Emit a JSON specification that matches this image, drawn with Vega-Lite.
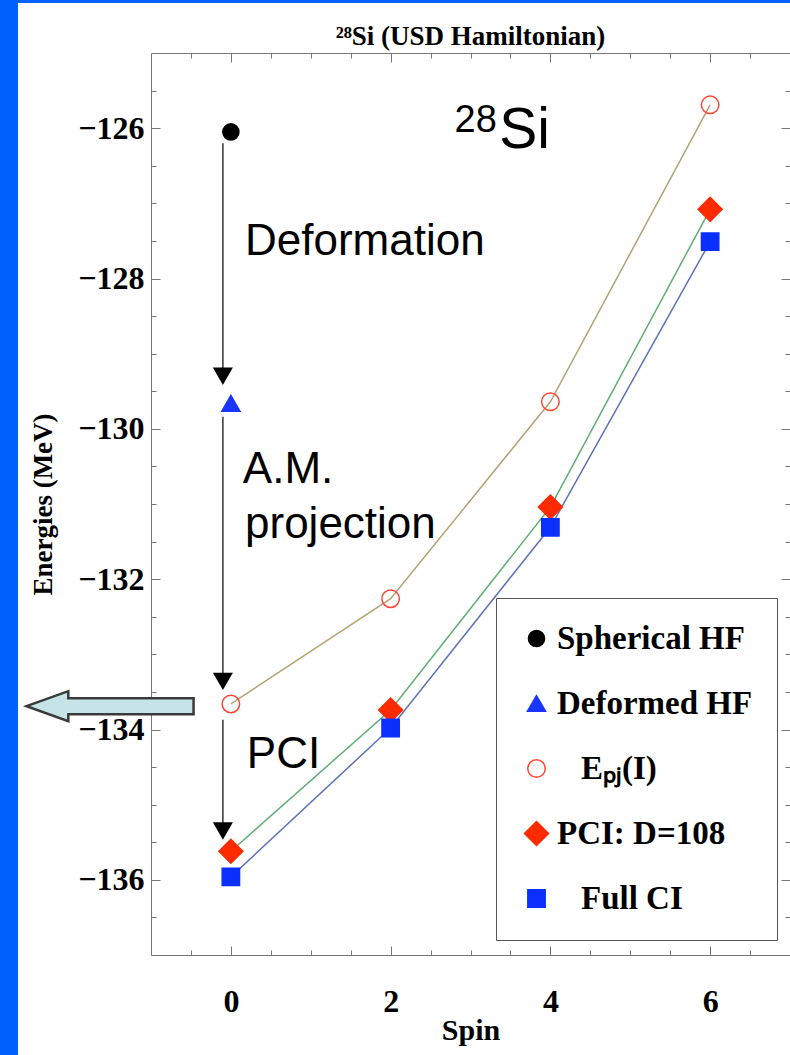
{
  "$schema": "https://vega.github.io/schema/vega-lite/v6.json",
  "autosize": "none",
  "width": 639,
  "height": 902,
  "padding": {"left": 151, "top": 53, "right": 0, "bottom": 100},
  "background": "#ffffff",
  "title": {"text": "\u00b2\u2078Si (USD Hamiltonian)", "font": "Liberation Serif", "fontWeight": "bold", "fontSize": 27, "color": "#000000", "offset": 0, "dy": 72, "baseline": "alphabetic", "anchor": "middle"},
  "config": {"view": {"stroke": null}},
  "datasets": {
    "main": [
      {"series": "Spherical HF", "spin": 0, "E": -126.05},
      {"series": "Deformed HF", "spin": 0, "E": -129.66},
      {"series": "Epj(I)", "spin": 0, "E": -133.66},
      {"series": "Epj(I)", "spin": 2, "E": -132.26},
      {"series": "Epj(I)", "spin": 4, "E": -129.64},
      {"series": "Epj(I)", "spin": 6, "E": -125.69},
      {"series": "PCI: D=108", "spin": 0, "E": -135.62},
      {"series": "PCI: D=108", "spin": 2, "E": -133.74},
      {"series": "PCI: D=108", "spin": 4, "E": -131.04},
      {"series": "PCI: D=108", "spin": 6, "E": -127.08},
      {"series": "Full CI", "spin": 0, "E": -135.96},
      {"series": "Full CI", "spin": 2, "E": -133.98},
      {"series": "Full CI", "spin": 4, "E": -131.31},
      {"series": "Full CI", "spin": 6, "E": -127.51}
    ],
    "arrows": [
      {"x": -0.1, "y1": -126.2, "y2": -129.3},
      {"x": -0.1, "y1": -129.84, "y2": -133.36},
      {"x": -0.1, "y1": -133.87, "y2": -135.35}
    ],
    "steps": [
      {"text": "Deformation", "x": 0.177, "y": -127.69},
      {"text": "A.M.", "x": 0.15, "y": -130.72},
      {"text": "projection", "x": 0.177, "y": -131.45},
      {"text": "PCI", "x": 0.2, "y": -134.51}
    ],
    "mass": [{"text": "28", "x": 2.8, "y": -126.05}],
    "element": [{"text": "Si", "x": 3.36, "y": -126.26}],
    "bigarrow": [{"x": -1.5125, "y": -133.69}],
    "strips": [
      {"x": -10, "x2": -2.665, "y": -150, "y2": -124.295},
      {"x": -10, "x2": 20, "y": -124.335, "y2": -124.295}
    ]
  },
  "resolve": {"axis": {"x": "independent", "y": "independent"}},
  "layer": [
    {
      "data": {"name": "strips"},
      "mark": {"type": "rect", "color": "#0062fe", "clip": false},
      "encoding": {
        "x": {"field": "x", "type": "quantitative", "scale": {"domain": [-1, 7], "nice": false, "zero": false}, "axis": null},
        "x2": {"field": "x2"},
        "y": {"field": "y", "type": "quantitative", "scale": {"domain": [-137, -125], "nice": false, "zero": false}, "axis": null},
        "y2": {"field": "y2"}
      }
    },
    {
      "data": {"name": "main"},
      "mark": {"type": "point", "opacity": 0},
      "encoding": {
        "x": {"field": "spin", "type": "quantitative", "scale": {"domain": [-1, 7], "nice": false, "zero": false},
          "axis": {"orient": "bottom", "values": [0, 2, 4, 6], "ticks": false, "domain": true, "domainColor": "#777777", "domainWidth": 1, "grid": false,
            "labelFont": "Liberation Serif", "labelFontWeight": "bold", "labelFontSize": 32, "labelColor": "#000000", "labelPadding": 31, "labelOverlap": false, "labelFlush": false,
            "title": "Spin", "titleFont": "Liberation Serif", "titleFontWeight": "bold", "titleFontSize": 30, "titleColor": "#000000", "titlePadding": -2}},
        "y": {"field": "E", "type": "quantitative", "scale": {"domain": [-137, -125], "nice": false, "zero": false},
          "axis": {"orient": "left", "values": [-136, -134, -132, -130, -128, -126], "ticks": false, "domain": true, "domainColor": "#777777", "domainWidth": 1, "grid": false,
            "labelFont": "Liberation Serif", "labelFontWeight": "bold", "labelFontSize": 32, "labelColor": "#000000", "labelPadding": 7, "labelOverlap": false, "labelFlush": false,
            "title": "Energies (MeV)", "titleFont": "Liberation Serif", "titleFontWeight": "bold", "titleFontSize": 27, "titleColor": "#000000", "titlePadding": 20}}
      }
    },
    {
      "data": {"name": "main"},
      "mark": {"type": "point", "opacity": 0},
      "encoding": {
        "x": {"field": "spin", "type": "quantitative", "scale": {"domain": [-1, 7], "nice": false, "zero": false},
          "axis": {"orient": "bottom", "values": [0, 2, 4, 6], "labels": false, "domain": false, "grid": false, "tickSize": -9, "tickColor": "#777777", "title": null}},
        "y": {"field": "E", "type": "quantitative", "scale": {"domain": [-137, -125], "nice": false, "zero": false},
          "axis": {"orient": "left", "values": [-136, -134, -132, -130, -128, -126], "labels": false, "domain": false, "grid": false, "tickSize": -9, "tickColor": "#777777", "title": null}}
      }
    },
    {
      "data": {"name": "main"},
      "mark": {"type": "point", "opacity": 0},
      "encoding": {
        "x": {"field": "spin", "type": "quantitative", "scale": {"domain": [-1, 7], "nice": false, "zero": false},
          "axis": {"orient": "bottom", "values": [-0.5, 0.5, 1, 1.5, 2.5, 3, 3.5, 4.5, 5, 5.5, 6.5], "labels": false, "domain": false, "grid": false, "tickSize": -5, "tickColor": "#777777", "title": null}},
        "y": {"field": "E", "type": "quantitative", "scale": {"domain": [-137, -125], "nice": false, "zero": false},
          "axis": {"orient": "left", "values": [-136.5, -135.5, -135, -134.5, -133.5, -133, -132.5, -131.5, -131, -130.5, -129.5, -129, -128.5, -127.5, -127, -126.5, -125.5], "labels": false, "domain": false, "grid": false, "tickSize": -5, "tickColor": "#777777", "title": null}}
      }
    },
    {
      "data": {"name": "main"},
      "mark": {"type": "point", "opacity": 0},
      "encoding": {
        "x": {"field": "spin", "type": "quantitative", "scale": {"domain": [-1, 7], "nice": false, "zero": false},
          "axis": {"orient": "top", "values": [0, 2, 4, 6], "labels": false, "domain": true, "domainColor": "#777777", "domainWidth": 1, "grid": false, "tickSize": -9, "tickColor": "#777777", "title": null}},
        "y": {"field": "E", "type": "quantitative", "scale": {"domain": [-137, -125], "nice": false, "zero": false},
          "axis": {"orient": "right", "values": [-136, -134, -132, -130, -128, -126], "labels": false, "domain": true, "domainColor": "#777777", "domainWidth": 1, "grid": false, "tickSize": -9, "tickColor": "#777777", "title": null}}
      }
    },
    {
      "data": {"name": "main"},
      "mark": {"type": "point", "opacity": 0},
      "encoding": {
        "x": {"field": "spin", "type": "quantitative", "scale": {"domain": [-1, 7], "nice": false, "zero": false},
          "axis": {"orient": "top", "values": [-0.5, 0.5, 1, 1.5, 2.5, 3, 3.5, 4.5, 5, 5.5, 6.5], "labels": false, "domain": false, "grid": false, "tickSize": -5, "tickColor": "#777777", "title": null}},
        "y": {"field": "E", "type": "quantitative", "scale": {"domain": [-137, -125], "nice": false, "zero": false},
          "axis": {"orient": "right", "values": [-136.5, -135.5, -135, -134.5, -133.5, -133, -132.5, -131.5, -131, -130.5, -129.5, -129, -128.5, -127.5, -127, -126.5, -125.5], "labels": false, "domain": false, "grid": false, "tickSize": -5, "tickColor": "#777777", "title": null}}
      }
    },
    {
      "data": {"name": "main"},
      "transform": [{"filter": "datum.series !== 'Spherical HF' && datum.series !== 'Deformed HF'"}],
      "mark": {"type": "line", "strokeWidth": 1.5},
      "encoding": {
        "x": {"field": "spin", "type": "quantitative", "scale": {"domain": [-1, 7], "nice": false, "zero": false}, "axis": null},
        "y": {"field": "E", "type": "quantitative", "scale": {"domain": [-137, -125], "nice": false, "zero": false}, "axis": null},
        "color": {"field": "series", "type": "nominal", "scale": {"domain": ["Epj(I)", "PCI: D=108", "Full CI"], "range": ["#b3a373", "#5fae74", "#5d72b8"]}, "legend": null}
      }
    },
    {
      "data": {"name": "main"},
      "mark": {"type": "point", "filled": true, "strokeWidth": 1.5, "opacity": 1},
      "encoding": {
        "x": {"field": "spin", "type": "quantitative", "scale": {"domain": [-1, 7], "nice": false, "zero": false}, "axis": null},
        "y": {"field": "E", "type": "quantitative", "scale": {"domain": [-137, -125], "nice": false, "zero": false}, "axis": null},
        "shape": {"field": "series", "type": "nominal",
          "scale": {"domain": ["Spherical HF", "Deformed HF", "Epj(I)", "PCI: D=108", "Full CI"], "range": ["circle", "triangle-up", "circle", "diamond", "square"]},
          "legend": {"orient": "none", "legendX": 345, "legendY": 545, "title": null, "strokeColor": "#555555", "fillColor": "#ffffff", "padding": 24, "rowPadding": 31,
            "labelFont": "Liberation Serif", "labelFontWeight": "bold", "labelFontSize": 33, "labelColor": "#000000", "labelOffset": 4, "labelLimit": 0,
            "symbolStrokeWidth": 1.5,
            "labelExpr": "datum.label === 'Epj(I)' ? '\u2800E\u209a\u2c7c(I)' : datum.label === 'Full CI' ? '\u2800Full CI' : datum.label"}},
        "fill": {"field": "series", "type": "nominal",
          "scale": {"domain": ["Spherical HF", "Deformed HF", "Epj(I)", "PCI: D=108", "Full CI"], "range": ["#000000", "#1a35ff", "transparent", "#ff2a00", "#0a2fff"]}},
        "stroke": {"field": "series", "type": "nominal",
          "scale": {"domain": ["Spherical HF", "Deformed HF", "Epj(I)", "PCI: D=108", "Full CI"], "range": ["#000000", "#1a35ff", "#ff4433", "#ff2a00", "#0a2fff"]}},
        "size": {"field": "series", "type": "nominal",
          "scale": {"type": "ordinal", "domain": ["Spherical HF", "Deformed HF", "Epj(I)", "PCI: D=108", "Full CI"], "range": [260, 330, 306, 576, 300]}}
      }
    },
    {
      "data": {"name": "arrows"},
      "mark": {"type": "rule", "color": "#333333", "strokeWidth": 1.5},
      "encoding": {
        "x": {"field": "x", "type": "quantitative", "scale": {"domain": [-1, 7], "nice": false, "zero": false}, "axis": null},
        "y": {"field": "y1", "type": "quantitative", "scale": {"domain": [-137, -125], "nice": false, "zero": false}, "axis": null},
        "y2": {"field": "y2"}
      }
    },
    {
      "data": {"name": "arrows"},
      "mark": {"type": "point", "shape": "triangle-down", "filled": true, "color": "#000000", "size": 400, "opacity": 1},
      "encoding": {
        "x": {"field": "x", "type": "quantitative", "scale": {"domain": [-1, 7], "nice": false, "zero": false}, "axis": null},
        "y": {"field": "y2", "type": "quantitative", "scale": {"domain": [-137, -125], "nice": false, "zero": false}, "axis": null}
      }
    },
    {
      "data": {"name": "steps"},
      "mark": {"type": "text", "font": "Liberation Sans", "fontSize": 44, "align": "left", "baseline": "alphabetic", "color": "#000000"},
      "encoding": {
        "x": {"field": "x", "type": "quantitative", "scale": {"domain": [-1, 7], "nice": false, "zero": false}, "axis": null},
        "y": {"field": "y", "type": "quantitative", "scale": {"domain": [-137, -125], "nice": false, "zero": false}, "axis": null},
        "text": {"field": "text"}
      }
    },
    {
      "data": {"name": "mass"},
      "mark": {"type": "text", "font": "Liberation Sans", "fontSize": 38, "align": "left", "baseline": "alphabetic", "color": "#000000"},
      "encoding": {
        "x": {"field": "x", "type": "quantitative", "scale": {"domain": [-1, 7], "nice": false, "zero": false}, "axis": null},
        "y": {"field": "y", "type": "quantitative", "scale": {"domain": [-137, -125], "nice": false, "zero": false}, "axis": null},
        "text": {"field": "text"}
      }
    },
    {
      "data": {"name": "element"},
      "mark": {"type": "text", "font": "Liberation Sans", "fontSize": 57, "align": "left", "baseline": "alphabetic", "color": "#000000"},
      "encoding": {
        "x": {"field": "x", "type": "quantitative", "scale": {"domain": [-1, 7], "nice": false, "zero": false}, "axis": null},
        "y": {"field": "y", "type": "quantitative", "scale": {"domain": [-137, -125], "nice": false, "zero": false}, "axis": null},
        "text": {"field": "text"}
      }
    },
    {
      "data": {"name": "bigarrow"},
      "mark": {"type": "point", "shape": "M-1,0L-0.5,-0.18L-0.5,-0.096L1,-0.096L1,0.096L-0.5,0.096L-0.5,0.18Z", "size": 27889, "filled": true, "fill": "#c6e4e8", "stroke": "#3a3a3a", "strokeWidth": 2.5, "opacity": 1},
      "encoding": {
        "x": {"field": "x", "type": "quantitative", "scale": {"domain": [-1, 7], "nice": false, "zero": false}, "axis": null},
        "y": {"field": "y", "type": "quantitative", "scale": {"domain": [-137, -125], "nice": false, "zero": false}, "axis": null}
      }
    }
  ]
}
